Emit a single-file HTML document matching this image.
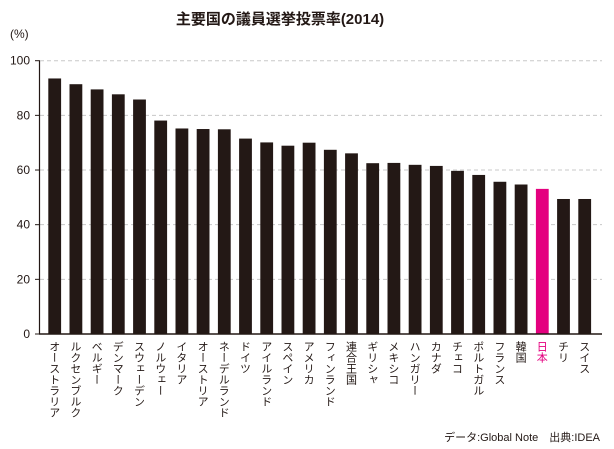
<!DOCTYPE html>
<html><head><meta charset="utf-8">
<style>
body{margin:0;background:#fff;width:614px;height:449px;overflow:hidden;font-family:"Liberation Sans","Noto Sans CJK JP",sans-serif;}
svg{display:block}
</style></head>
<body>
<svg id="chart" width="614" height="449" xmlns="http://www.w3.org/2000/svg">
<text x="280" y="24" text-anchor="middle" font-size="15" font-weight="bold" fill="#231815" font-family="Liberation Sans, Noto Sans CJK JP, sans-serif">主要国の議員選挙投票率(2014)</text>
<text x="10" y="38" font-size="12" fill="#231815">(%)</text>
<g id="grid"></g>
<g id="bars"></g>
<g id="labels"></g>
<line x1="39.5" y1="61" x2="39.5" y2="334" stroke="#231815" stroke-width="1.2"/>
<line x1="39" y1="334" x2="602" y2="334" stroke="#231815" stroke-width="1.5"/>
<text x="600" y="441" text-anchor="end" font-size="11" fill="#231815">データ:Global Note　出典:IDEA</text>
</svg>
<script>
const categories=["オーストラリア","ルクセンブルク","ベルギー","デンマーク","スウェーデン","ノルウェー","イタリア","オーストリア","ネーデルランド","ドイツ","アイルランド","スペイン","アメリカ","フィンランド","連合王国","ギリシャ","メキシコ","ハンガリー","カナダ","チェコ","ポルトガル","フランス","韓国","日本","チリ","スイス"];
const values=[93.5,91.4,89.5,87.7,85.8,78.1,75.2,75.0,74.9,71.5,70.1,68.9,70.0,67.4,66.1,62.5,62.6,61.9,61.5,59.7,58.2,55.7,54.7,53.1,49.4,49.4];
const yTicks=[0,20,40,60,80,100];
const highlight="日本";
const NS="http://www.w3.org/2000/svg";
const y0=334,yTop=60.7,xStart=48.3,step=21.2,bw=12.8;
function yScale(v){return y0-(y0-yTop)*v/100;}
function xScale(i){return xStart+i*step;}
const grid=document.getElementById('grid'),bars=document.getElementById('bars'),labels=document.getElementById('labels');
yTicks.forEach(t=>{
  const y=yScale(t);
  if(t>0){
    const l=document.createElementNS(NS,'line');
    
    
    l.setAttribute('x1',40);l.setAttribute('x2',602);l.setAttribute('y1',y);l.setAttribute('y2',y);
    l.setAttribute('stroke','#c8c8c8');l.setAttribute('stroke-dasharray','4,3');
    grid.appendChild(l);
  }
  const tk=document.createElementNS(NS,'line');
  
  
  tk.setAttribute('x1',35);tk.setAttribute('x2',40);tk.setAttribute('y1',y);tk.setAttribute('y2',y);
  tk.setAttribute('stroke','#231815');
  grid.appendChild(tk);
  const tx=document.createElementNS(NS,'text');
  
  
  tx.setAttribute('x',30);tx.setAttribute('y',y+4);tx.setAttribute('text-anchor','end');
  tx.setAttribute('font-size','12');tx.setAttribute('fill','#231815');
  tx.textContent=t;
  grid.appendChild(tx);
});
categories.forEach((c,i)=>{
  const x=xScale(i),v=values[i];
  const r=document.createElementNS(NS,'rect');
  
  
  r.setAttribute('x',x);r.setAttribute('y',yScale(v));r.setAttribute('width',bw);r.setAttribute('height',y0-yScale(v));
  r.setAttribute('fill',c===highlight?'#e4007f':'#231815');
  bars.appendChild(r);
  const t=document.createElementNS(NS,'text');
  
  
  t.setAttribute('x',x+bw/2);t.setAttribute('y',341);
  t.setAttribute('font-size','11');
  t.setAttribute('style','writing-mode:vertical-rl;font-family:"Noto Sans CJK JP",sans-serif;');
  t.setAttribute('fill',c===highlight?'#e4007f':'#231815');
  t.textContent=c;
  labels.appendChild(t);
});
</script>
</body></html>
